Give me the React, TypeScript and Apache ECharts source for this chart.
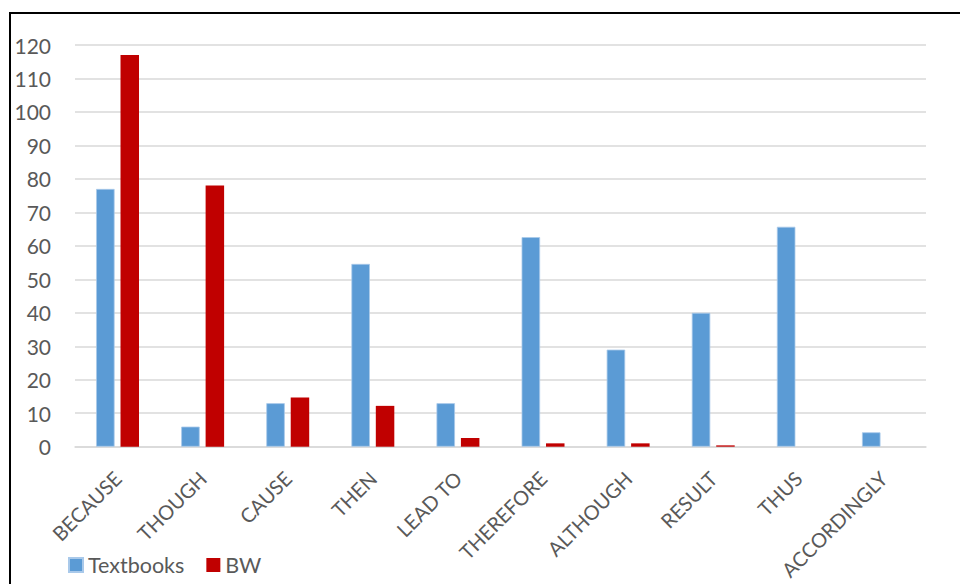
import React, { useEffect, useRef } from "react";
import * as echarts from "echarts";

const categories = ["BECAUSE", "THOUGH", "CAUSE", "THEN", "LEAD TO", "THEREFORE", "ALTHOUGH", "RESULT", "THUS", "ACCORDINGLY"];
const textbooks = [77, 6, 13, 54.6, 13, 62.6, 29, 40, 65.7, 4.3];
const bw = [117, 78, 14.7, 12.2, 2.6, 1, 1, 0.4, 0, 0];
const yTicks = { min: 0, max: 120, interval: 10 };

export default function App() {
  const ref = useRef<HTMLDivElement>(null);
  useEffect(() => {
    const chart = echarts.init(ref.current!, null, { renderer: "svg" });
    const font = "Lato, 'Liberation Sans', sans-serif";
    chart.setOption({
      animation: false,
      backgroundColor: "#ffffff",
      grid: {
        left: 75,
        right: 34,
        top: 45,
        bottom: 137.3,
        containLabel: false,
        outerBoundsMode: "none",
      },
      legend: {
        left: 63,
        top: 549,
        itemWidth: 14,
        itemHeight: 14,
        itemGap: 22,
        icon: "rect",
        textStyle: { fontFamily: font, fontSize: 21.5, color: "#595959" },
        data: ["Textbooks", "BW"],
      },
      xAxis: {
        type: "category",
        data: categories,
        axisLine: { lineStyle: { color: "#d9d9d9", width: 1.5 } },
        axisTick: { show: false },
        axisLabel: {
          rotate: 45,
          interval: 0,
          margin: 28,
          fontFamily: font,
          fontSize: 20,
          color: "#595959",
        },
      },
      yAxis: {
        type: "value",
        min: yTicks.min,
        max: yTicks.max,
        interval: yTicks.interval,
        axisLine: { show: false },
        axisTick: { show: false },
        splitLine: { lineStyle: { color: "#d9d9d9", width: 1.5 } },
        axisLabel: { margin: 24, fontFamily: font, fontSize: 21, color: "#595959" },
      },
      graphic: [
        {
          type: "rect",
          shape: { x: 10, y: 13, width: 1000, height: 700 },
          style: { fill: "none", stroke: "#000000", lineWidth: 2 },
          silent: true,
        },
      ],
      series: [
        {
          name: "Textbooks",
          type: "bar",
          data: textbooks,
          barWidth: 18.5,
          barGap: "32%",
          itemStyle: { color: "#5B9BD5", borderColor: "#a9c9ea", borderWidth: 0.8 },
        },
        {
          name: "BW",
          type: "bar",
          data: bw,
          barWidth: 18.5,
          itemStyle: { color: "#C00000", borderWidth: 0 },
        },
      ],
    });
    return () => chart.dispose();
  }, []);
  return (
    <div
      ref={ref}
      style={{ position: "absolute", left: 0, top: 0, width: 960, height: 584 }}
    />
  );
}
